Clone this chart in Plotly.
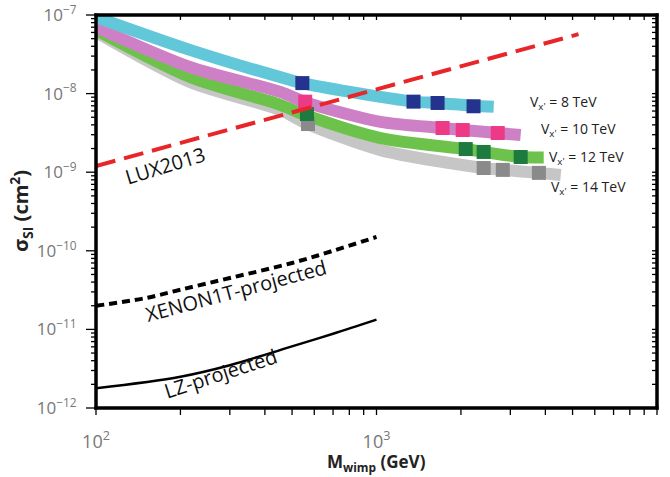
import math
import plotly.graph_objects as go

# ---- data ----
lux_x = [100, 5250]
lux_y = [1.2e-9, 5.7e-8]

xenon_x = [100, 150, 200, 300, 500, 700, 1000]
xenon_y = [2.0e-11, 2.5e-11, 3.2e-11, 4.5e-11, 7.0e-11, 1.0e-10, 1.5e-10]

lz_x = [100, 200, 300, 493, 700, 1000]
lz_y = [1.78e-12, 2.5e-12, 3.5e-12, 6.0e-12, 8.8e-12, 1.33e-11]

cyan_x = [100, 216, 493, 544, 807, 1355, 1651, 2218, 2618]
cyan_y = [9.4e-8, 3.6e-8, 1.49e-8, 1.36e-8, 1.05e-8, 7.9e-9, 7.6e-9, 7.0e-9, 6.8e-9]

pink_x = [100, 216, 454, 557, 1033, 1720, 2029, 2705, 3266]
pink_y = [7.0e-8, 2.18e-8, 1.05e-8, 7.8e-9, 4.36e-9, 3.65e-9, 3.44e-9, 3.15e-9, 2.97e-9]

green_x = [100, 216, 454, 557, 1033, 2080, 2410, 3266, 3946]
green_y = [6.44e-8, 1.63e-8, 7.2e-9, 5.35e-9, 2.72e-9, 1.97e-9, 1.81e-9, 1.56e-9, 1.54e-9]

gray_x = [100, 216, 454, 557, 1033, 2410, 2820, 3793, 4540]
gray_y = [6.08e-8, 1.41e-8, 6.18e-9, 4.23e-9, 1.91e-9, 1.13e-9, 1.07e-9, 9.8e-10, 9.2e-10]

navy_sq_x = [544, 1355, 1651, 2218]
navy_sq_y = [1.36e-8, 7.9e-9, 7.6e-9, 6.9e-9]
pink_sq_x = [557, 1720, 2029, 2705]
pink_sq_y = [7.9e-9, 3.65e-9, 3.44e-9, 3.15e-9]
green_sq_x = [565, 2080, 2410, 3266]
green_sq_y = [5.5e-9, 1.97e-9, 1.81e-9, 1.56e-9]
gray_sq_x = [570, 2410, 2820, 3793]
gray_sq_y = [4.1e-9, 1.13e-9, 1.07e-9, 9.8e-10]

vx_labels = ["V<sub>x'</sub> = 8 TeV", "V<sub>x'</sub> = 10 TeV",
             "V<sub>x'</sub> = 12 TeV", "V<sub>x'</sub> = 14 TeV"]

x_decades = [2, 3, 4]
y_decades = [-12, -11, -10, -9, -8, -7]
x_ticktext = ["10<sup>2</sup>", "10<sup>3</sup>", "10<sup>4</sup>"]
y_ticktext = ["10<sup>−12</sup>", "10<sup>−11</sup>", "10<sup>−10</sup>",
              "10<sup>−9</sup>", "10<sup>−8</sup>", "10<sup>−7</sup>"]

FONT = "Open Sans"
W, H = 670, 477
PL, PR, PT, PB = 96, 657, 15, 408   # plot-area pixel box

fig = go.Figure()

def band(x, y, color):
    fig.add_trace(go.Scatter(x=x, y=y, mode="lines", hoverinfo="skip",
                             line=dict(color=color, width=12, shape="spline", smoothing=0.8)))

band(gray_x, gray_y, "#C6C6C6")
band(green_x, green_y, "#6DC24B")
band(pink_x, pink_y, "#CE80C6")
band(cyan_x, cyan_y, "#63C7DA")

def squares(x, y, color):
    fig.add_trace(go.Scatter(x=x, y=y, mode="markers", hoverinfo="skip",
                             marker=dict(symbol="square", size=14, color=color,
                                         line=dict(width=0))))

squares(gray_sq_x, gray_sq_y, "#8A8A8A")
squares(green_sq_x, green_sq_y, "#1E7B40")
squares(pink_sq_x, pink_sq_y, "#EC3A86")
squares(navy_sq_x, navy_sq_y, "#24338E")

fig.add_trace(go.Scatter(x=xenon_x, y=xenon_y, mode="lines", hoverinfo="skip",
                         line=dict(color="black", width=4, dash="8px,5px", shape="spline")))
fig.add_trace(go.Scatter(x=lz_x, y=lz_y, mode="lines", hoverinfo="skip",
                         line=dict(color="black", width=2.5, shape="spline")))
fig.add_trace(go.Scatter(x=lux_x, y=lux_y, mode="lines", hoverinfo="skip",
                         line=dict(color="#E8262A", width=4, dash="20px,9px")))

xr = [x_decades[0], x_decades[-1]]
yr = [y_decades[0], y_decades[-1]]

# ---- frame + tick marks drawn on a full-page pixel overlay ----
def px(v):
    return PL + (math.log10(v) - xr[0]) / (xr[1] - xr[0]) * (PR - PL)

def py(v):
    return PB - (math.log10(v) - yr[0]) / (yr[1] - yr[0]) * (PB - PT)

def tick_positions(decs):
    out = []
    for i, d in enumerate(decs):
        out.append((10.0 ** d, True))
        if i < len(decs) - 1:
            for m in range(2, 10):
                out.append((m * 10.0 ** d, False))
    return out

tx, ty = [], []
for v, major in tick_positions(x_decades):
    X = px(v)
    tx += [X, X, None, X, X, None]
    ty += [PB, PB + 7, None, PT, PT + 5, None]
for v, major in tick_positions(y_decades):
    Y = py(v)
    L = 10 if major else 5
    tx += [PL, PL - L, None, PR, PR - 5, None]
    ty += [Y, Y, None, Y, Y, None]

fig.add_trace(go.Scatter(x=tx, y=ty, xaxis="x2", yaxis="y2", mode="lines", hoverinfo="skip",
                         line=dict(color="black", width=1.3)))

# frame as four thin filled rectangles
h = 1.5
rects = [(PL - h, PR + h, PT - h, PT + h),
         (PL - h, PR + h, PB - h, PB + h),
         (PL - h, PL + h, PT - h, PB + h),
         (PR - h, PR + h, PT - h, PB + h)]
fx, fy = [], []
for x0, x1, y0, y1 in rects:
    fx += [x0, x1, x1, x0, x0, None]
    fy += [y0, y0, y1, y1, y0, None]
fig.add_trace(go.Scatter(x=fx, y=fy, xaxis="x2", yaxis="y2", mode="lines", fill="toself",
                         fillcolor="black", hoverinfo="skip",
                         line=dict(color="black", width=0.5)))

fig.update_layout(
    xaxis=dict(type="log", range=xr, domain=[PL / W, PR / W], anchor="y",
               showgrid=False, zeroline=False, automargin=False, showline=False,
               tickvals=[10.0 ** d for d in x_decades], ticktext=x_ticktext,
               ticks="outside", ticklen=17, tickcolor="rgba(0,0,0,0)",
               tickfont=dict(family=FONT, size=18, color="#777777")),
    yaxis=dict(type="log", range=yr, domain=[1 - PB / H, 1 - PT / H], anchor="x",
               showgrid=False, zeroline=False, automargin=False, showline=False,
               tickvals=[10.0 ** d for d in y_decades], ticktext=y_ticktext,
               ticks="outside", ticklen=15, tickcolor="rgba(0,0,0,0)",
               tickfont=dict(family=FONT, size=17, color="#777777")),
    xaxis2=dict(range=[0, W], domain=[0, 1], anchor="y2", visible=False, fixedrange=True),
    yaxis2=dict(range=[H, 0], domain=[0, 1], anchor="x2", visible=False, fixedrange=True),
)

ann = []
ann.append(dict(x=2.247, y=-8.92, xref="x", yref="y", text="LUX2013", showarrow=False,
                textangle=-17, font=dict(family=FONT, size=20, color="#111")))
ann.append(dict(x=2.5, y=-10.51, xref="x", yref="y", text="XENON1T-projected", showarrow=False,
                textangle=-15, font=dict(family=FONT, size=20, color="#111")))
ann.append(dict(x=2.443, y=-11.56, xref="x", yref="y", text="LZ-projected", showarrow=False,
                textangle=-18, font=dict(family=FONT, size=20, color="#111")))
vx_pos = [(3.539, -8.107), (3.579, -8.463), (3.607, -8.807), (3.614, -9.20)]
for (lx, ly), t in zip(vx_pos, vx_labels):
    ann.append(dict(x=lx, y=ly, xref="x", yref="y", text=t, showarrow=False,
                    xanchor="left", font=dict(family=FONT, size=14, color="#222")))
ann.append(dict(x=21 / W, y=1 - 211 / H, xref="paper", yref="paper", xanchor="center",
                yanchor="middle", text="<b>σ<sub>SI</sub> (cm<sup>2</sup>)</b>", showarrow=False,
                textangle=-90, font=dict(family=FONT, size=20, color="#222")))
ann.append(dict(x=376 / W, y=1 - 462 / H, xref="paper", yref="paper", xanchor="center",
                yanchor="middle", text="<b>M<sub>wimp</sub> (GeV)</b>", showarrow=False,
                font=dict(family=FONT, size=17, color="#222")))

fig.update_layout(
    width=W, height=H, autosize=False, showlegend=False,
    margin=dict(l=0, r=0, t=0, b=0, pad=0),
    plot_bgcolor="rgba(0,0,0,0)", paper_bgcolor="white",
    annotations=ann,
)

fig.write_html("out.html", config={"displayModeBar": False},
               post_script="document.body.style.margin='0';document.body.style.overflow='hidden';")
